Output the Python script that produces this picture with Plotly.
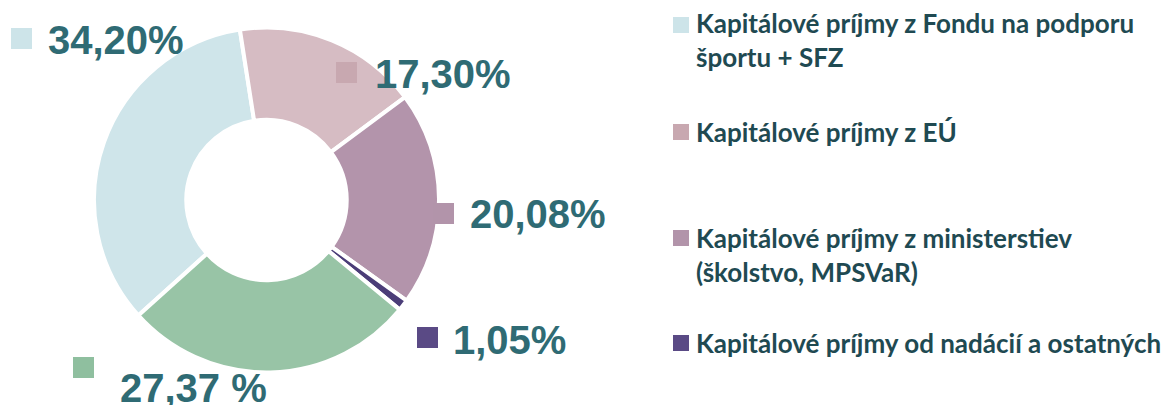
import plotly.graph_objects as go

# ---- data ----
categories = [
    "Kapitálové príjmy z Fondu na podporu športu + SFZ",
    "Kapitálové príjmy z EÚ",
    "Kapitálové príjmy z ministerstiev (školstvo, MPSVaR)",
    "Kapitálové príjmy od nadácií a ostatných",
    "Ostatné",
]
values = [34.20, 17.30, 20.08, 1.05, 27.37]
value_labels = ["34,20%", "17,30%", "20,08%", "1,05%", "27,37 %"]
legend_labels = [
    "Kapitálové príjmy z Fondu na podporu<br>športu + SFZ",
    "Kapitálové príjmy z EÚ",
    "Kapitálové príjmy z ministerstiev<br>(školstvo, MPSVaR)",
    "Kapitálové príjmy od nadácií a ostatných",
]

colors = ["#cfe5ea", "#d6bcc3", "#b394ab", "#4b3d78", "#98c4a6"]
square_colors = ["#cde4e9", "#c8a8b0", "#b294aa", "#5a4a85", "#8fbf9f"]

W, H = 1171, 405


def px(x):
    return x / W


def py(y):
    return 1 - y / H


fig = go.Figure()
fig.add_trace(go.Pie(
    labels=categories,
    values=values,
    sort=False,
    direction="clockwise",
    rotation=-132,
    hole=0.465,
    marker=dict(colors=colors, line=dict(color="white", width=4)),
    textinfo="none",
    hoverinfo="label+percent",
    showlegend=False,
    domain=dict(x=[px(94), px(439)], y=[py(373), py(27)]),
))

annotations = []


def square(cx, cy, size, color):
    return dict(xref="paper", yref="paper", x=px(cx), y=py(cy),
                xanchor="center", yanchor="middle", showarrow=False,
                text=" ", width=size, height=size, bgcolor=color,
                borderpad=0, borderwidth=0)


# data labels: (square x0, square y-center, text x, text y-center)
label_pos = [
    (11, 38, 46, 40),
    (336, 72, 373, 74),
    (433, 213, 468, 214),
    (417, 337, 451, 340),
    (73, 367, 118, 388),
]
label_color = "#2f6b74"
for i, (sx, sy, tx, ty) in enumerate(label_pos):
    s = 21
    annotations.append(square(sx + s / 2, sy, s, square_colors[i]))
    annotations.append(dict(xref="paper", yref="paper", x=px(tx), y=py(ty),
                            xanchor="left", yanchor="middle", showarrow=False,
                            text=value_labels[i],
                            font=dict(family="Liberation Sans, Arial", size=40,
                                      color=label_color, weight="bold")))

# legend
leg_pos = [(25, 40), (132, 132), (238, 255), (343, 343)]
leg_color = "#1f4a52"
for i, (sy, ty) in enumerate(leg_pos):
    s = 16
    annotations.append(square(673 + s / 2, sy, s, square_colors[i]))
    annotations.append(dict(xref="paper", yref="paper", x=px(694), y=py(ty),
                            xanchor="left", yanchor="middle", align="left", showarrow=False,
                            text=legend_labels[i],
                            font=dict(family="Lato", size=26, color=leg_color, weight="bold")))

fig.update_layout(
    width=W, height=H,
    margin=dict(l=0, r=0, t=0, b=0),
    paper_bgcolor="white",
    plot_bgcolor="white",
    annotations=annotations,
)

fig.write_html("out.html", config={"displayModeBar": False},
               post_script="document.body.style.margin='0';")
